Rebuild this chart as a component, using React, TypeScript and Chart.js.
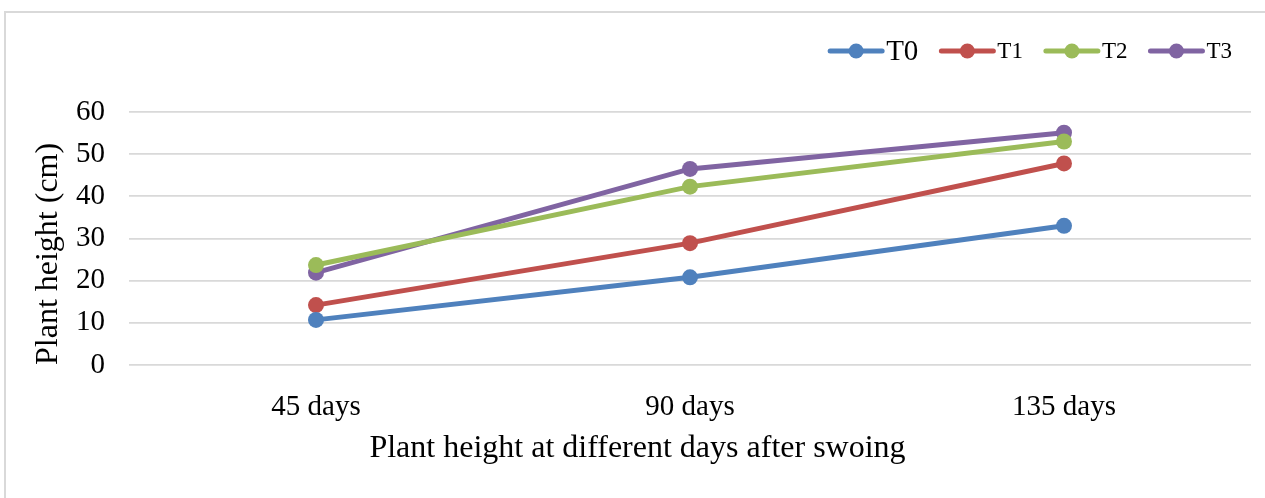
import React, { useEffect, useRef } from "react";
import { Chart, registerables } from "chart.js";

Chart.register(...registerables);

const categories = ["45 days", "90 days", "135 days"];
const seriesNames = ["T0", "T1", "T2", "T3"];
const t0Values = [10.7, 20.8, 33.0];
const t1Values = [14.2, 28.9, 47.8];
const t2Values = [23.7, 42.3, 53.0];
const t3Values = [21.9, 46.5, 55.1];
const seriesColors = ["#4F81BD", "#C0504D", "#9BBB59", "#8064A2"];
const yTicks = [0, 10, 20, 30, 40, 50, 60];

const FONT = "'Liberation Serif', 'Times New Roman', serif";

const legendPlugin = {
  id: "lineLegend",
  afterDraw(chart: any) {
    const ctx = chart.ctx;
    const datasets = chart.data.datasets;
    const cy = 51;
    let x = chart.width - 33;
    ctx.save();
    for (let i = datasets.length - 1; i >= 0; i--) {
      const ds = datasets[i];
      const size = i === 0 ? 29 : 23;
      ctx.font = `${size}px ${FONT}`;
      const tw = ctx.measureText(ds.label).width;
      const textX = x - tw;
      const lineEnd = textX - 2;
      const lineStart = lineEnd - 56;
      ctx.strokeStyle = ds.borderColor;
      ctx.lineWidth = 5;
      ctx.lineCap = "round";
      ctx.beginPath();
      ctx.moveTo(lineStart + 2, cy);
      ctx.lineTo(lineEnd - 2, cy);
      ctx.stroke();
      ctx.fillStyle = ds.borderColor;
      ctx.beginPath();
      ctx.arc((lineStart + lineEnd) / 2, cy, 7.5, 0, Math.PI * 2);
      ctx.fill();
      ctx.fillStyle = "#000";
      ctx.textBaseline = "middle";
      ctx.textAlign = "left";
      ctx.fillText(ds.label, textX, cy + 1);
      x = lineStart - 21;
    }
    ctx.restore();
  },
};

export default function App() {
  const ref = useRef<HTMLCanvasElement | null>(null);

  useEffect(() => {
    if (!ref.current) return;
    const values = [t0Values, t1Values, t2Values, t3Values];
    const chart = new Chart(ref.current, {
      type: "line",
      data: {
        labels: categories,
        datasets: seriesNames.map((name, i) => ({
          label: name,
          data: values[i],
          borderColor: seriesColors[i],
          backgroundColor: seriesColors[i],
          pointBackgroundColor: seriesColors[i],
          pointBorderWidth: 0,
          pointRadius: 8,
          borderWidth: 5,
          tension: 0,
          fill: false,
        })),
      },
      options: {
        animation: false,
        responsive: false,
        devicePixelRatio: 1,
        layout: { padding: { left: 24, top: 112, right: 14, bottom: 30 } },
        plugins: {
          legend: { display: false },
          tooltip: { enabled: false },
          title: {
            display: true,
            position: "bottom",
            text: "Plant height at different days after swoing",
            color: "#000",
            font: { family: FONT, size: 32, weight: "normal" },
            padding: 0,
          },
        },
        scales: {
          x: {
            type: "category",
            offset: true,
            grid: { display: false },
            border: { display: false },
            ticks: {
              color: "#000",
              font: { family: FONT, size: 29 },
              padding: 17,
              maxRotation: 0,
            },
            afterFit(scale: any) {
              scale.height = 64.6;
            },
          },
          y: {
            min: 0,
            max: 60,
            afterBuildTicks(scale: any) {
              scale.ticks = yTicks.map((v) => ({ value: v }));
            },
            grid: { color: "#d9d9d9", lineWidth: 1.8, drawTicks: false },
            border: { display: false },
            ticks: {
              color: "#000",
              font: { family: FONT, size: 29 },
              padding: 24,
            },
            title: {
              display: true,
              text: "Plant height (cm)",
              align: "start",
              color: "#000",
              font: { family: FONT, size: 32 },
              padding: { top: 5, bottom: 0 },
            },
            afterFit(scale: any) {
              scale.width = 105;
            },
          },
        },
      } as any,
      plugins: [legendPlugin],
    });
    return () => chart.destroy();
  }, []);

  return (
    <div
      style={{
        position: "fixed",
        left: 0,
        top: 0,
        width: 1265,
        height: 498,
        overflow: "hidden",
        background: "#fff",
      }}
    >
      <div
        style={{
          position: "absolute",
          left: 4,
          top: 11,
          width: 1300,
          height: 600,
          border: "2px solid #d9d9d9",
        }}
      />
      <canvas
        ref={ref}
        width={1265}
        height={498}
        style={{ position: "absolute", left: 0, top: 0, width: 1265, height: 498 }}
      />
    </div>
  );
}
